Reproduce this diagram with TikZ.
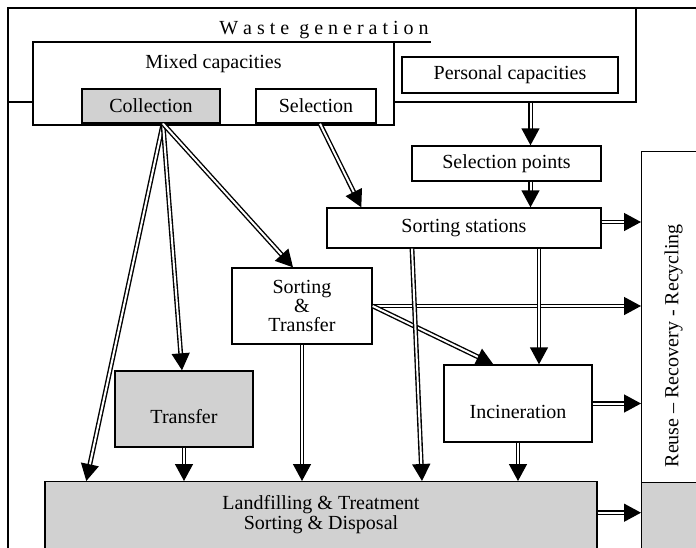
\documentclass[tikz,border=0pt]{standalone}
\usepackage{fontspec}
\setmainfont{Liberation Serif}
\usetikzlibrary{arrows.meta}
\usetikzlibrary{positioning}

\begin{document}
\begin{tikzpicture}[x=0.5pt, y=-0.5pt]
	\useasboundingbox (0,0) rectangle (696,547);
	\clip (0,0) rectangle (696,547);
	\draw[line width=0.7pt] (8,8) rectangle (740,600);

	\begin{scope}[every node/.style={draw, line width=0.7pt, fill=white, inner sep=0pt}]
		\node[minimum width=314pt, minimum height=47pt] (wg) at (322,55) {};
		\node[draw=none, fill=none, anchor=south, minimum width=106pt, inner ysep=1.3pt] (title) at (324,42) {W a s t e~ g e n e r a t i o n};
		\node[minimum width=180.5pt, minimum height=41.5pt,
		      label={[anchor=north, yshift=-6.5pt, draw=none, fill=none]north:Mixed capacities}] (mixed) at (213.5,83.5) {};
		\node[minimum width=69pt, minimum height=17pt, fill=black!18] (collection) at (151,106) {Collection};
		\node[minimum width=60pt, minimum height=17pt] (selection) at (316,106) {Selection};
		\node[minimum width=108pt, minimum height=18pt] (personal) at (510,75) {Personal capacities};
		\node[minimum width=94.5pt, minimum height=17.5pt] (selpts) at (506.5,163.5) {Selection points};
		\node[minimum width=137pt, minimum height=20pt] (sortst) at (464,228) {Sorting stations};
		\node[minimum width=70pt, minimum height=38pt, align=center,
		      font=\fontsize{10pt}{9.3pt}\selectfont] (sorttr) at (302,306) {Sorting\\ \&\\ Transfer};
		\node[minimum width=69pt, minimum height=38pt, fill=black!18, text height=15pt] (transfer) at (184,409) {Transfer};
		\node[minimum width=74pt, minimum height=38.5pt, text height=15pt] (incin) at (518,403.5) {Incineration};
		\node[anchor=north, minimum width=276pt, minimum height=42pt, fill=black!18, align=center,
		      font=\fontsize{10pt}{10pt}\selectfont, text depth=11pt] (landfill) at (321,481) {Landfilling \& Treatment\\ Sorting \& Disposal};
		\node[anchor=north west, minimum width=32pt, minimum height=194pt] (reuse) at (641,151) {\rotatebox{90}{Reuse -- Recovery - Recycling}};
		\node[anchor=north west, minimum width=40pt, minimum height=50pt, fill=black!18] (sink) at (641,482) {};
	\end{scope}

	\draw[line width=0.7pt] (title.south west) -- (title.south east);

	\coordinate (fan) at ([xshift=6pt]collection.south);
	\coordinate (chute) at ([xshift=12pt]selpts.north);
	\coordinate (ssout) at ([yshift=3pt]sortst.east);
	\coordinate (ssdrop) at ([xshift=37.5pt]sortst.south);
	\coordinate (lfout) at ([yshift=5.5pt]landfill.east);

	\begin{scope}[every edge/.style={draw, double, double distance=1pt, line width=0.7pt,
	              -{Triangle[length=8.5pt, width=9pt]}}]
		\path (fan) edge ([xshift=21pt]landfill.north west);
		\path (fan) edge ([xshift=-1pt]transfer.north);
		\path (fan) edge ([xshift=-4.5pt]sorttr.north);
		\path ([xshift=2pt]selection.south) edge ([xshift=17.5pt]sortst.north west);
		\path (chute |- wg.south) edge (chute);
		\path ([xshift=12pt]selpts.south) edge (chute |- sortst.north);
		\path (ssout) edge (ssout -| reuse.west);
		\path (sorttr.east) edge (sorttr.east -| reuse.west);
		\path (sorttr.east) edge ([xshift=25pt]incin.north west);
		\path (ssdrop) edge (ssdrop |- incin.north);
		\path ([xshift=-26pt]sortst.south) edge ([xshift=50.5pt]landfill.north);
		\path (sorttr.south) edge (sorttr.south |- landfill.north);
		\path (transfer.south) edge (transfer.south |- landfill.north);
		\path (incin.south) edge (incin.south |- landfill.north);
		\path (incin.east) edge (incin.east -| reuse.west);
		\path (lfout) edge (lfout -| sink.west);
	\end{scope}
\end{tikzpicture}
\end{document}
